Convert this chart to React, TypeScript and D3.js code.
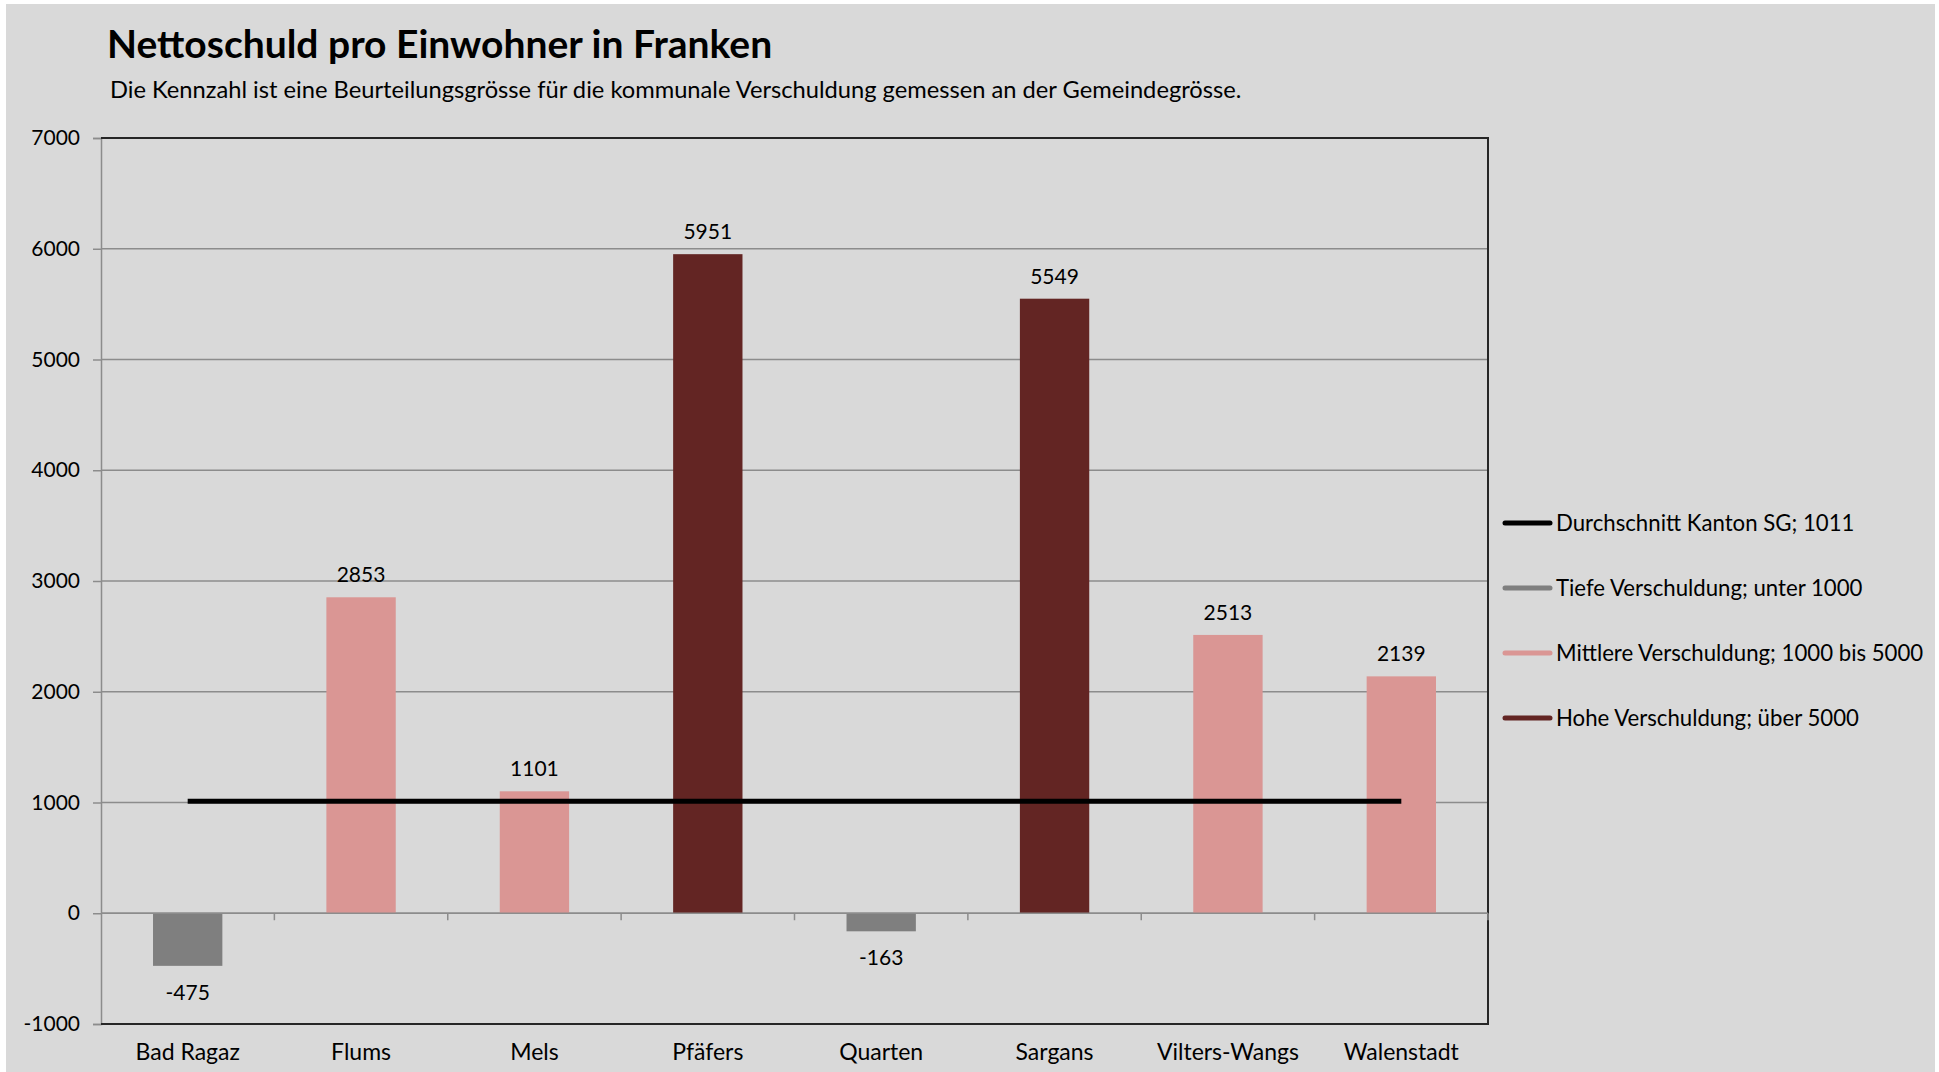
import React, { useEffect, useRef } from 'react';
import * as d3 from 'd3';

// Nettoschuld pro Einwohner (CHF)
const gemeinden = ['Bad Ragaz', 'Flums', 'Mels', 'Pfäfers', 'Quarten', 'Sargans', 'Vilters-Wangs', 'Walenstadt'];
const nettoschuld = [-475, 2853, 1101, 5951, -163, 5549, 2513, 2139];
const durchschnittKanton = 1011;
const yTicks = [-1000, 0, 1000, 2000, 3000, 4000, 5000, 6000, 7000];
const legendLabels = [
  'Durchschnitt Kanton SG; 1011',
  'Tiefe Verschuldung; unter 1000',
  'Mittlere Verschuldung; 1000 bis 5000',
  'Hohe Verschuldung; über 5000',
];

const W = 1939;
const H = 1072;
const FONT = 'Lato, "Noto Sans", sans-serif';

const colorFor = (v) => (v < 1000 ? '#7f7f7f' : v <= 5000 ? '#da9694' : '#632523');
const legendColors = ['#000000', '#7f7f7f', '#da9694', '#632523'];

function App() {
  const ref = useRef(null);

  useEffect(() => {
    if (!ref.current) return;
    const svg = d3.select(ref.current);
    svg.selectAll('*').remove();

    const left = 101, right = 1488, top = 138, bottom = 1024;

    svg.append('rect')
      .attr('x', 6).attr('y', 4)
      .attr('width', 1929).attr('height', H - 4)
      .attr('fill', '#d9d9d9');

    // Title
    svg.append('text')
      .attr('x', 107).attr('y', 58)
      .attr('font-family', FONT).attr('font-weight', 700)
      .attr('font-size', 39).attr('fill', '#000')
      .text('Nettoschuld pro Einwohner in Franken');
    svg.append('text')
      .attr('x', 110).attr('y', 98)
      .attr('font-family', FONT).attr('font-size', 23.7).attr('fill', '#000')
      .text('Die Kennzahl ist eine Beurteilungsgrösse für die kommunale Verschuldung gemessen an der Gemeindegrösse.');

    const x = d3.scaleBand()
      .domain(gemeinden)
      .range([left, right])
      .paddingInner(0.6)
      .paddingOuter(0.3);
    const y = d3.scaleLinear()
      .domain([-1000, 7000])
      .range([bottom, top]);

    // Gridlines
    svg.append('g')
      .selectAll('line')
      .data(yTicks.filter((t) => t > -1000 && t < 7000))
      .join('line')
      .attr('x1', left).attr('x2', right)
      .attr('y1', (d) => y(d)).attr('y2', (d) => y(d))
      .attr('stroke', '#8c8c8c').attr('stroke-width', 1.5);

    // Y axis
    const yAxis = svg.append('g')
      .attr('transform', `translate(${left},0)`)
      .call(d3.axisLeft(y).tickValues(yTicks).tickSize(8).tickPadding(13).tickFormat((d) => String(d)));
    yAxis.select('.domain').attr('stroke', '#8c8c8c').attr('stroke-width', 1.5);
    yAxis.selectAll('.tick line').attr('stroke', '#8c8c8c').attr('stroke-width', 1.5);
    yAxis.selectAll('.tick text')
      .attr('font-family', FONT).attr('font-size', 21).attr('fill', '#000');

    // Plot frame (top, right, bottom)
    svg.append('path')
      .attr('d', `M${left},${top}H${right}V${bottom}H${left}`)
      .attr('fill', 'none').attr('stroke', '#262626').attr('stroke-width', 2);

    // Bars
    svg.append('g')
      .selectAll('rect')
      .data(nettoschuld)
      .join('rect')
      .attr('x', (_, i) => x(gemeinden[i]))
      .attr('y', (d) => y(Math.max(0, d)))
      .attr('width', x.bandwidth())
      .attr('height', (d) => Math.abs(y(d) - y(0)))
      .attr('fill', (d) => colorFor(d));

    // Zero line with category ticks
    svg.append('line')
      .attr('x1', left).attr('x2', right)
      .attr('y1', y(0)).attr('y2', y(0))
      .attr('stroke', '#8c8c8c').attr('stroke-width', 1.5);
    svg.append('g')
      .selectAll('line')
      .data(gemeinden.slice(1))
      .join('line')
      .attr('x1', (d) => x(d) - x.step() * 0.3)
      .attr('x2', (d) => x(d) - x.step() * 0.3)
      .attr('y1', y(0)).attr('y2', y(0) + 7)
      .attr('stroke', '#8c8c8c').attr('stroke-width', 1.5);
    svg.append('line')
      .attr('x1', right).attr('x2', right)
      .attr('y1', y(0)).attr('y2', y(0) + 7)
      .attr('stroke', '#8c8c8c').attr('stroke-width', 1.5);

    // Value labels
    svg.append('g')
      .selectAll('text')
      .data(nettoschuld)
      .join('text')
      .attr('x', (_, i) => x(gemeinden[i]) + x.bandwidth() / 2)
      .attr('y', (d) => (d >= 0 ? y(d) - 15 : y(d) + 34))
      .attr('text-anchor', 'middle')
      .attr('font-family', FONT).attr('font-size', 21).attr('fill', '#000')
      .text((d) => d);

    // Category labels
    svg.append('g')
      .selectAll('text')
      .data(gemeinden)
      .join('text')
      .attr('x', (d) => x(d) + x.bandwidth() / 2)
      .attr('y', 1060)
      .attr('text-anchor', 'middle')
      .attr('font-family', FONT).attr('font-size', 23).attr('fill', '#000')
      .text((d) => d);

    // Average line
    const avgLine = d3.line();
    svg.append('path')
      .attr('d', avgLine([
        [x(gemeinden[0]) + x.bandwidth() / 2, y(durchschnittKanton)],
        [x(gemeinden[gemeinden.length - 1]) + x.bandwidth() / 2, y(durchschnittKanton)],
      ]))
      .attr('stroke', '#000').attr('stroke-width', 5).attr('fill', 'none');

    // Legend
    const lg = svg.append('g').attr('transform', 'translate(1505,523)');
    const item = lg.selectAll('g')
      .data(legendLabels)
      .join('g')
      .attr('transform', (_, i) => `translate(0,${i * 65})`);
    item.append('line')
      .attr('x1', 0).attr('x2', 45)
      .attr('y1', 0).attr('y2', 0)
      .attr('stroke', (_, i) => legendColors[i])
      .attr('stroke-width', 5).attr('stroke-linecap', 'round');
    item.append('text')
      .attr('x', 51).attr('y', 8)
      .attr('font-family', FONT).attr('font-size', 22.2).attr('fill', '#000')
      .text((d) => d);
  }, []);

  return (
    <svg
      ref={ref}
      width={W}
      height={H}
      style={{ position: 'absolute', left: 0, top: 0, display: 'block' }}
    />
  );
}

export default App;
